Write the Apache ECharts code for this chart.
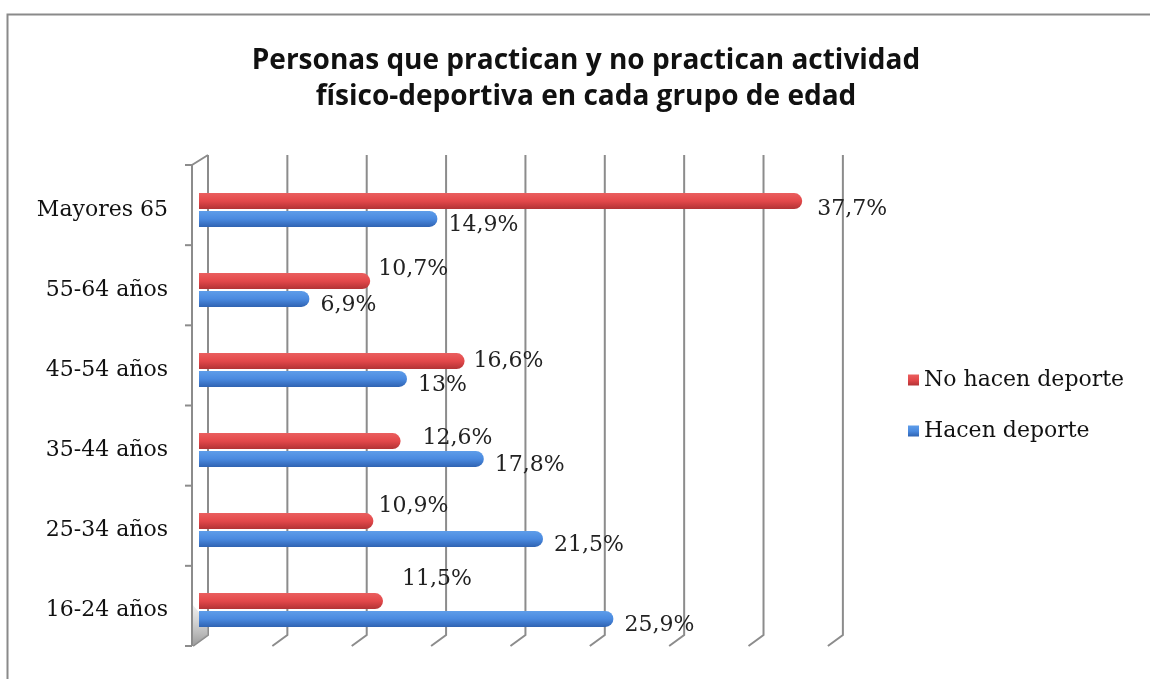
<!DOCTYPE html>
<html>
<head>
<meta charset="utf-8">
<script src="https://cdn.jsdelivr.net/npm/echarts@6/dist/echarts.min.js"></script>
<style>html,body{margin:0;padding:0;background:#fff}#c{width:1150px;height:679px}</style>
</head>
<body>
<div id="c"></div>
<script>
// ---- data ----
var categories = ['16-24 años', '25-34 años', '35-44 años', '45-54 años', '55-64 años', 'Mayores 65'];
var noHacenDeporte = [11.5, 10.9, 12.6, 16.6, 10.7, 37.7];
var hacenDeporte = [25.9, 21.5, 17.8, 13, 6.9, 14.9];
var gridValues = [0, 5, 10, 15, 20, 25, 30, 35, 40];
var seriesNames = ['No hacen deporte', 'Hacen deporte'];

// ---- style only ----
var redLabelOffsets = [[19, -22], [5, -15], [22, -3], [9, 0], [8, -12], [15, 8]];
var serif = 'DejaVu Serif';

function fmt(v) { return String(v).replace('.', ',') + '%'; }

var redGrad = new echarts.graphic.LinearGradient(0, 0, 0, 1, [
  {offset: 0, color: '#ea5f5f'}, {offset: 0.5, color: '#e3484a'}, {offset: 1, color: '#b23335'}]);
var blueGrad = new echarts.graphic.LinearGradient(0, 0, 0, 1, [
  {offset: 0, color: '#5e9de9'}, {offset: 0.5, color: '#4a8ae0'}, {offset: 1, color: '#2f63b2'}]);

var chart = echarts.init(document.getElementById('c'), null, {renderer: 'canvas'});
chart.setOption({
  backgroundColor: '#fff',
  animation: false,
  title: {
    text: 'Personas que practican y no practican actividad\nfísico-deportiva en cada grupo de edad',
    left: 586, top: 43, textAlign: 'center', padding: 0,
    textStyle: {fontFamily: 'Open Sans', fontWeight: 'bold', fontSize: 28, lineHeight: 36, color: '#111'}
  },
  graphic: [{
    type: 'rect', left: 5, top: 12, z: -10, silent: true,
    shape: {width: 1160, height: 700},
    style: {fill: null, stroke: '#8a8a8a', lineWidth: 2}
  }],
  legend: {
    data: seriesNames, orient: 'vertical', left: 903, top: 364, itemGap: 29,
    itemWidth: 11, itemHeight: 11, icon: 'rect',
    textStyle: {fontFamily: serif, fontSize: 22, color: '#111'}
  },
  grid: {left: 199, top: 170, width: 640, height: 480},
  xAxis: {
    type: 'value', min: 0, max: 40, interval: 5,
    axisLine: {show: false}, axisTick: {show: false}, axisLabel: {show: false}, splitLine: {show: false}
  },
  yAxis: {
    type: 'category', data: categories,
    axisLine: {show: false}, axisTick: {show: false},
    axisLabel: {margin: 31, fontFamily: serif, fontSize: 22, color: '#111'}
  },
  series: [
    {
      type: 'custom', name: 'grid3d', silent: true, z: 0,
      data: gridValues.map(function (v) { return [v, 0]; }),
      encode: {x: 0, y: 1},
      renderItem: function (params, api) {
        var cs = params.coordSys;
        var x = api.coord([api.value(0), 0])[0];
        var bx = cs.x + 9 + (x - cs.x) * 0.992;
        var top = cs.y - 15, bot = cs.y + cs.height - 15;
        var children = [{
          type: 'polyline',
          shape: {points: [[bx, top], [bx, bot], [bx - 15, bot + 11]]},
          style: {stroke: '#8c8c8c', lineWidth: 2, fill: null}
        }];
        if (params.dataIndex === 0) {
          var wx = cs.x - 7, wt = cs.y - 5, wb = cs.y + cs.height - 4;
          children.push({
            type: 'polygon',
            shape: {points: [[wx, wb - 42], [wx, wb], [bx, bot], [bx, bot - 12]]},
            style: {fill: new echarts.graphic.LinearGradient(0, 0, 0, 1, [
              {offset: 0, color: 'rgba(200,200,200,0.3)'}, {offset: 1, color: '#9a9a9a'}])}
          });
          children.push({
            type: 'polyline',
            shape: {points: [[bx, top], [wx, wt], [wx, wb]]},
            style: {stroke: '#8c8c8c', lineWidth: 2, fill: null}
          });
          for (var k = 0; k <= categories.length; k++) {
            var ty = wt + k * (wb - wt) / categories.length;
            children.push({
              type: 'line', shape: {x1: wx - 7, y1: ty, x2: wx, y2: ty},
              style: {stroke: '#8c8c8c', lineWidth: 2}
            });
          }
        }
        return {type: 'group', children: children};
      }
    },
    {
      type: 'bar', name: seriesNames[0], z: 3,
      barWidth: 16, barGap: '12%',
      itemStyle: {color: redGrad, borderRadius: [0, 8, 8, 0]},
      label: {show: true, position: 'right', distance: 0, fontFamily: serif, fontSize: 22, color: '#222',
        formatter: function (p) { return fmt(p.value); }},
      data: noHacenDeporte.map(function (v, i) { return {value: v, label: {offset: redLabelOffsets[i]}}; })
    },
    {
      type: 'bar', name: seriesNames[1], z: 3,
      barWidth: 16,
      itemStyle: {color: blueGrad, borderRadius: [0, 8, 8, 0]},
      label: {show: true, position: 'right', distance: 11, offset: [0, 6], fontFamily: serif, fontSize: 22, color: '#222',
        formatter: function (p) { return fmt(p.value); }},
      data: hacenDeporte
    }
  ]
});
</script>
</body>
</html>
